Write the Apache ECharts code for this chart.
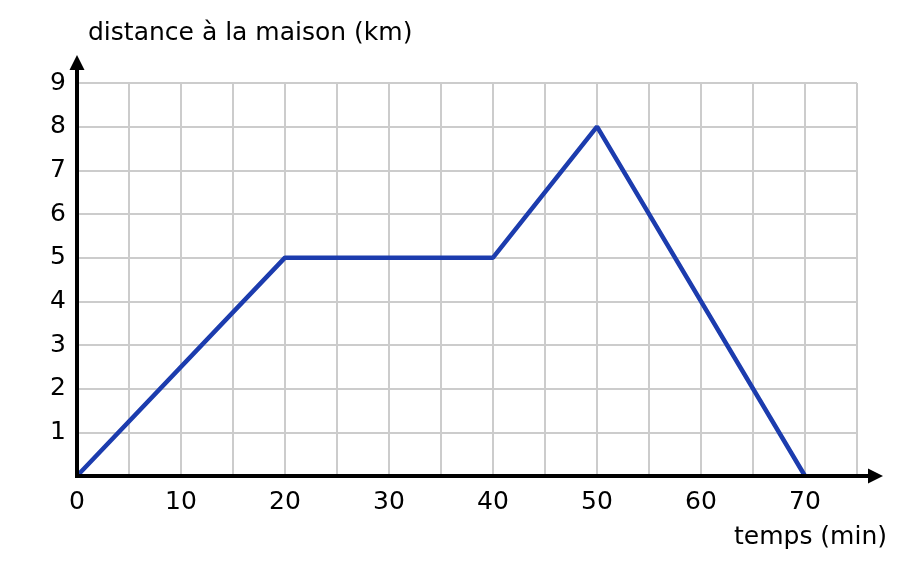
<!DOCTYPE html>
<html>
<head>
<meta charset="utf-8">
<script src="https://cdn.jsdelivr.net/npm/echarts@6/dist/echarts.min.js"></script>
<style>
  html, body { margin: 0; padding: 0; background: #fff; }
  #main { width: 913px; height: 564px; }
</style>
</head>
<body>
<div id="main"></div>
<script>
// données du graphique
const temps = [0, 20, 40, 50, 70]
const distance = [0, 5, 5, 8, 0]
const xTicks = [0, 10, 20, 30, 40, 50, 60, 70]
const yTicks = [1, 2, 3, 4, 5, 6, 7, 8, 9]
const yName = 'distance à la maison (km)'
const xName = 'temps (min)'

const font = 'DejaVu Sans'
const fs = 25
const chart = echarts.init(document.getElementById('main'))

const option = {
  animation: false,
  textStyle: { fontFamily: font },
  grid: { left: 77, right: 56, top: 83, bottom: 88, containLabel: false },
  xAxis: {
    type: 'value',
    min: 0,
    max: 75,
    interval: 5,
    axisLine: { show: false },
    axisTick: { show: false },
    axisLabel: {
      margin: 14,
      fontSize: fs,
      color: '#000',
      fontFamily: font,
      formatter: (v) => (xTicks.includes(v) ? String(v) : '')
    },
    splitLine: { lineStyle: { color: '#cccccc', width: 2 } }
  },
  yAxis: {
    type: 'value',
    min: 0,
    max: 9,
    interval: 1,
    axisLine: { show: false },
    axisTick: { show: false },
    axisLabel: {
      margin: 11,
      fontSize: fs,
      color: '#000',
      fontFamily: font,
      formatter: (v) => (yTicks.includes(v) ? String(v) : '')
    },
    splitLine: { lineStyle: { color: '#cccccc', width: 2 } }
  },
  series: [
    {
      type: 'line',
      data: temps.map((t, i) => [t, distance[i]]),
      symbol: 'none',
      lineStyle: { color: '#1c3cae', width: 4.5 },
      z: 3
    }
  ]
}
chart.setOption(option)

// axes avec flèches, placés à partir des échelles
const o = chart.convertToPixel({ gridIndex: 0 }, [0, 0])
const xEnd = chart.convertToPixel({ gridIndex: 0 }, [75, 0])
const yEnd = chart.convertToPixel({ gridIndex: 0 }, [0, 9])
const ax = xEnd[0] + 26
const ay = yEnd[1] - 28

chart.setOption({
  graphic: [
    { type: 'line', z: 10, shape: { x1: o[0], y1: o[1], x2: ax - 8, y2: o[1] }, style: { stroke: '#000', lineWidth: 4 } },
    { type: 'polygon', z: 10, shape: { points: [[ax, o[1]], [ax - 15, o[1] - 7.5], [ax - 15, o[1] + 7.5]] }, style: { fill: '#000' } },
    { type: 'line', z: 10, shape: { x1: o[0], y1: o[1] + 2, x2: o[0], y2: ay + 8 }, style: { stroke: '#000', lineWidth: 4 } },
    { type: 'polygon', z: 10, shape: { points: [[o[0], ay], [o[0] - 7.5, ay + 15], [o[0] + 7.5, ay + 15]] }, style: { fill: '#000' } },
    { type: 'text', left: o[0] + 11, top: 21, style: { text: yName, fontSize: fs, fontFamily: font, fill: '#000' } },
    { type: 'text', right: 913 - 887, top: 525, style: { text: xName, fontSize: fs, fontFamily: font, fill: '#000' } }
  ]
})
</script>
</body>
</html>
